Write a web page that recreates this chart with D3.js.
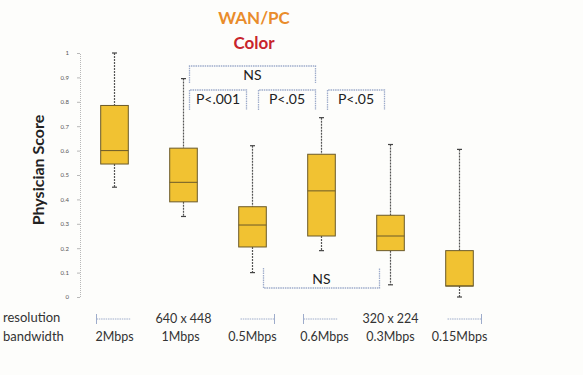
<!DOCTYPE html>
<html><head><meta charset="utf-8">
<script src="https://cdn.jsdelivr.net/npm/d3@7"></script>
<style>body{margin:0;background:#fdfdfb}</style>
</head><body>
<svg id="c" width="583" height="375"></svg>
<script>
const categories = ["2Mbps","1Mbps","0.5Mbps","0.6Mbps","0.3Mbps","0.15Mbps"];
const whiskerLow  = [0.45, 0.33, 0.10, 0.19, 0.05, 0.00];
const q1          = [0.545,0.39, 0.205,0.25, 0.19, 0.045];
const medians     = [0.60, 0.47, 0.295,0.435,0.25, 0.045];
const q3          = [0.785,0.61, 0.37, 0.585,0.335,0.19];
const whiskerHigh = [1.00, 0.895,0.62, 0.735,0.625,0.605];
const yTicks = [0,0.1,0.2,0.3,0.4,0.5,0.6,0.7,0.8,0.9,1];
const yTickLabels = ["0","0.1","0.2","0.3","0.4","0.5","0.6","0.7","0.8","0.9","1"];
const topBrackets = [{from:1,to:3,label:"NS",row:0},{from:1,to:2,label:"P<.001",row:1},{from:2,to:3,label:"P<.05",row:1},{from:3,to:4,label:"P<.05",row:1}];
const bottomBrackets = [{from:2,to:4,label:"NS"}];
const resolutions = [{label:"640 x 448",from:0,to:2},{label:"320 x 224",from:3,to:5}];

const svg = d3.select("#c");
const font = "Lato, 'Open Sans', sans-serif";
const x = d3.scaleBand().domain(categories).range([80,494]).paddingInner(0.6).paddingOuter(0.3);
const y = d3.scaleLinear().domain([0,1]).range([297,53]);
const cx = i => x(categories[i]) + x.bandwidth()/2;

// titles
svg.append("text").attr("x",254).attr("y",24).attr("text-anchor","middle")
  .attr("font-family",font).attr("font-weight","bold").attr("font-size",17).attr("fill","#e98c2b").text("WAN/PC");
svg.append("text").attr("x",254).attr("y",49).attr("text-anchor","middle")
  .attr("font-family",font).attr("font-weight","bold").attr("font-size",17).attr("fill","#c8242c").text("Color");

// y axis
const ax = svg.append("g").attr("transform","translate(80,0)")
  .call(d3.axisLeft(y).tickValues(yTicks).tickFormat((d,i)=>yTickLabels[i]).tickSize(3).tickPadding(8));
ax.select(".domain").attr("stroke","#b8b8b8").attr("stroke-dasharray","1,1");
ax.selectAll(".tick line").attr("stroke","#b8b8b8");
ax.selectAll(".tick text").attr("font-size",6).attr("fill","#555").attr("font-family",font);

svg.append("text").attr("transform","translate(44,170) rotate(-90)").attr("text-anchor","middle")
  .attr("font-family",font).attr("font-weight","bold").attr("font-size",16).attr("fill","#222").text("Physician Score");

// boxes
const g = svg.append("g");
categories.forEach((c,i)=>{
  const xc = cx(i), w = x.bandwidth();
  g.append("line").attr("x1",xc).attr("x2",xc).attr("y1",y(whiskerHigh[i])).attr("y2",y(q3[i]))
    .attr("stroke","#555").attr("stroke-width",1.2).attr("stroke-dasharray","2,1");
  g.append("line").attr("x1",xc).attr("x2",xc).attr("y1",y(q1[i])).attr("y2",y(whiskerLow[i]))
    .attr("stroke","#555").attr("stroke-width",1.2).attr("stroke-dasharray","2,1");
  [whiskerHigh[i],whiskerLow[i]].forEach(v=>{
    g.append("line").attr("x1",xc-2.5).attr("x2",xc+2.5).attr("y1",y(v)).attr("y2",y(v)).attr("stroke","#444").attr("stroke-width",1.2);
  });
  g.append("rect").attr("x",xc-w/2).attr("width",w).attr("y",y(q3[i])).attr("height",y(q1[i])-y(q3[i]))
    .attr("fill","#f1c232").attr("stroke","#6b5a2a").attr("stroke-width",1);
  g.append("line").attr("x1",xc-w/2).attr("x2",xc+w/2).attr("y1",y(medians[i])).attr("y2",y(medians[i]))
    .attr("stroke","#6b5a2a").attr("stroke-width",1);
});

// brackets
const bc = "#9eaccb";
const rowTop = [66,90];
topBrackets.forEach(b=>{
  const x1 = cx(b.from)+6, x2 = cx(b.to)-6, yt = rowTop[b.row], yb = yt+ (b.row===0?17:20);
  svg.append("path").attr("d",`M${x1},${yb}V${yt}H${x2}V${yb}`).attr("fill","none").attr("stroke",bc)
    .attr("stroke-width",1.3).attr("stroke-dasharray","1.5,0.8");
  svg.append("text").attr("x",(x1+x2)/2).attr("y",yt+14).attr("text-anchor","middle")
    .attr("font-family",font).attr("font-size",14).attr("fill","#222").text(b.label);
});
bottomBrackets.forEach(b=>{
  const x1 = cx(b.from)+11, x2 = cx(b.to)-11, yb = 288, yt = 268;
  svg.append("path").attr("d",`M${x1},${yt}V${yb}H${x2}V${yt}`).attr("fill","none").attr("stroke",bc)
    .attr("stroke-width",1.3).attr("stroke-dasharray","1.5,0.8");
  svg.append("text").attr("x",(x1+x2)/2).attr("y",284).attr("text-anchor","middle")
    .attr("font-family",font).attr("font-size",14).attr("fill","#222").text(b.label);
});

// bottom labels
svg.append("text").attr("x",3).attr("y",322).attr("font-family",font).attr("font-size",13).attr("fill","#333").text("resolution");
svg.append("text").attr("x",3).attr("y",341).attr("font-family",font).attr("font-size",13).attr("fill","#333").text("bandwidth");
categories.forEach((c,i)=>{
  svg.append("text").attr("x",cx(i)+(i===1?-3:i===3?3:0)).attr("y",341).attr("text-anchor","middle")
    .attr("font-family",font).attr("font-size",12.5).attr("fill","#333").text(c);
});
resolutions.forEach(r=>{
  const xl = cx(r.from)-18, xr = cx(r.to)+22, xm = (cx(r.from)+cx(r.to))/2;
  svg.append("text").attr("x",xm).attr("y",323).attr("text-anchor","middle")
    .attr("font-family",font).attr("font-size",12.5).attr("fill","#333").text(r.label);
  svg.append("line").attr("x1",xl).attr("x2",xl+34).attr("y1",319).attr("y2",319).attr("stroke",bc).attr("stroke-dasharray","1.5,0.8");
  svg.append("line").attr("x1",xl).attr("x2",xl).attr("y1",314).attr("y2",324).attr("stroke",bc);
  svg.append("line").attr("x1",xr-34).attr("x2",xr).attr("y1",319).attr("y2",319).attr("stroke",bc).attr("stroke-dasharray","1.5,0.8");
  svg.append("line").attr("x1",xr).attr("x2",xr).attr("y1",314).attr("y2",324).attr("stroke",bc);
});
</script>
</body></html>
